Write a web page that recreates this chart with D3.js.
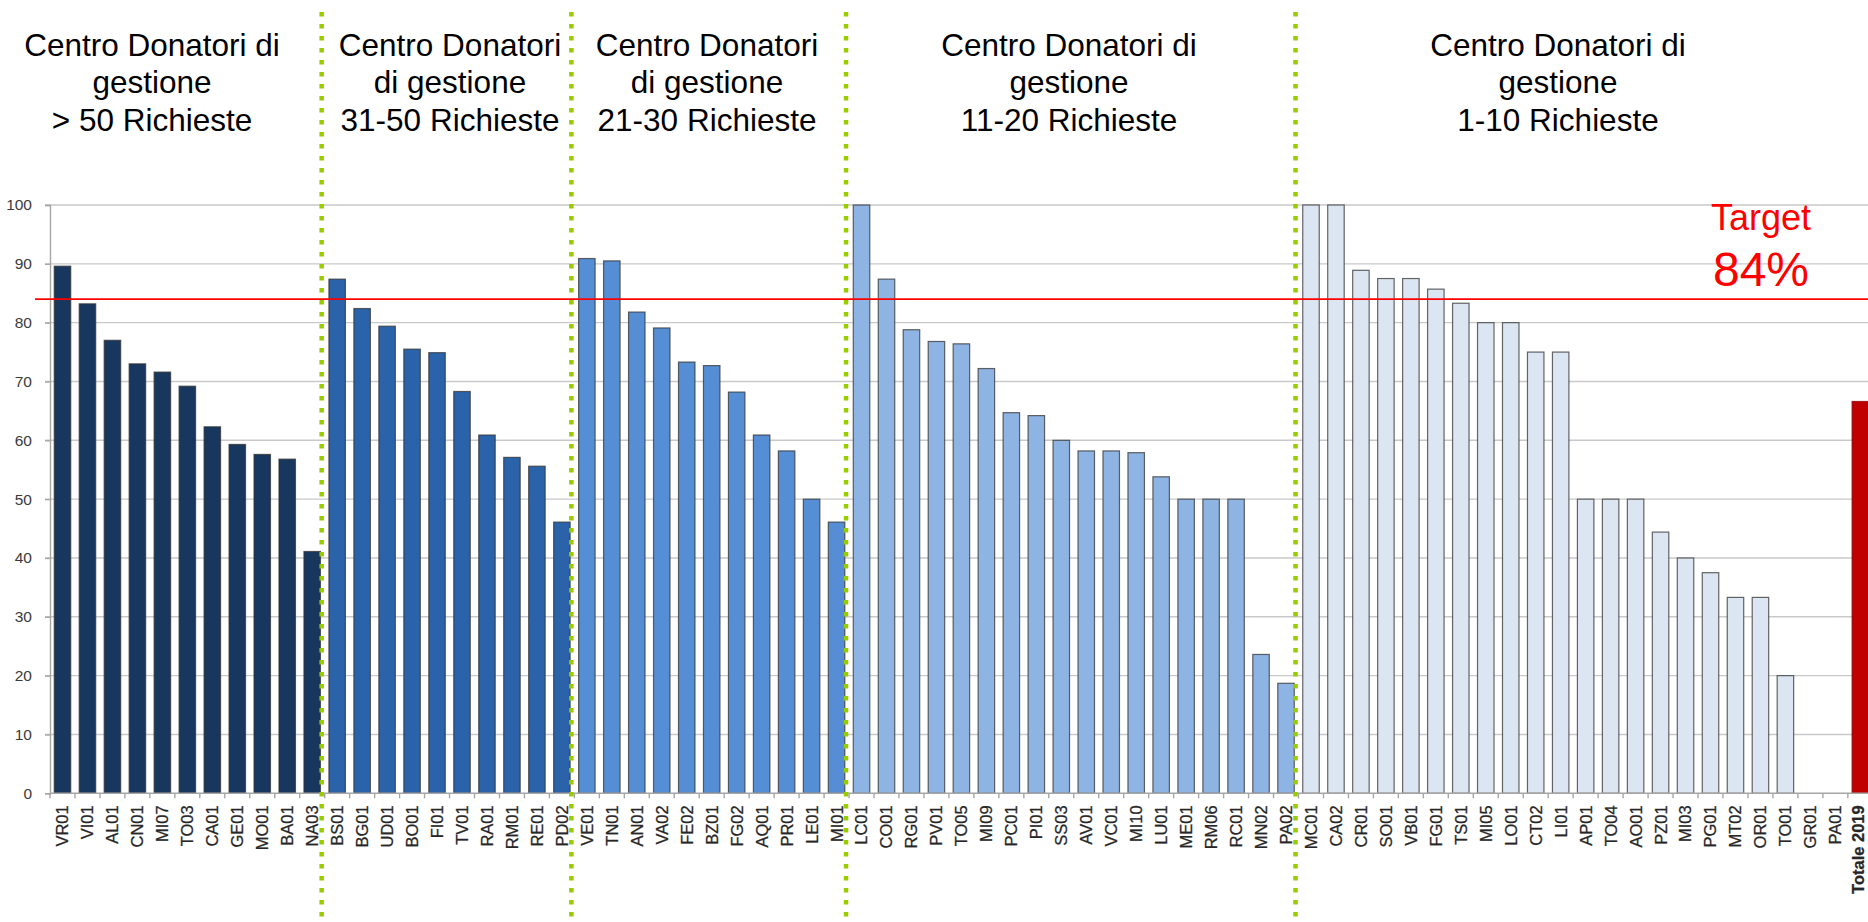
<!DOCTYPE html>
<html>
<head>
<meta charset="utf-8">
<script src="https://cdnjs.cloudflare.com/ajax/libs/d3/7.8.5/d3.min.js"></script>
<style>
  body { margin: 0; background: #fff; }
  svg { display: block; font-family: "Liberation Sans", Arial, sans-serif; }
</style>
</head>
<body>
<svg width="1868" height="922"></svg>
<script>
// groups of donor centres, by number of requests
const catsA = ["VR01", "VI01", "AL01", "CN01", "MI07", "TO03", "CA01", "GE01", "MO01", "BA01", "NA03"];
const valsA = [89.6, 83.2, 77.0, 73.0, 71.6, 69.2, 62.3, 59.3, 57.6, 56.8, 41.1];

const catsB = ["BS01", "BG01", "UD01", "BO01", "FI01", "TV01", "RA01", "RM01", "RE01", "PD02"];
const valsB = [87.4, 82.4, 79.4, 75.5, 74.9, 68.3, 60.9, 57.1, 55.6, 46.1];

const catsC = ["VE01", "TN01", "AN01", "VA02", "FE02", "BZ01", "FG02", "AQ01", "PR01", "LE01", "MI01"];
const valsC = [90.9, 90.5, 81.8, 79.1, 73.3, 72.7, 68.2, 60.9, 58.2, 50.0, 46.1];

const catsD = ["LC01", "CO01", "RG01", "PV01", "TO05", "MI09", "PC01", "PI01", "SS03", "AV01",
               "VC01", "MI10", "LU01", "ME01", "RM06", "RC01", "MN02", "PA02"];
const valsD = [100, 87.4, 78.8, 76.8, 76.4, 72.2, 64.7, 64.2, 60.0, 58.2,
               58.2, 57.9, 53.8, 50.0, 50.0, 50.0, 23.6, 18.7];

const catsE = ["MC01", "CA02", "CR01", "SO01", "VB01", "FG01", "TS01", "MI05", "LO01", "CT02", "LI01",
               "AP01", "TO04", "AO01", "PZ01", "MI03", "PG01", "MT02", "OR01", "TO01", "GR01", "PA01"];
const valsE = [100, 100, 88.9, 87.5, 87.5, 85.7, 83.3, 80.0, 80.0, 75.0, 75.0,
               50.0, 50.0, 50.0, 44.4, 40.0, 37.5, 33.3, 33.3, 20.0, 0, 0];

const totalCat = "Totale 2019";
const totalVal = 66.6;

const target = 84;
const yTicks = [0, 10, 20, 30, 40, 50, 60, 70, 80, 90, 100];

const headers = [
  ["Centro Donatori di", "gestione", "> 50 Richieste"],
  ["Centro Donatori", "di gestione", "31-50 Richieste"],
  ["Centro Donatori", "di gestione", "21-30 Richieste"],
  ["Centro Donatori di", "gestione", "11-20 Richieste"],
  ["Centro Donatori di", "gestione", "1-10 Richieste"]
];

// styling / layout
const groupColors = ["#17375E", "#2B63AA", "#558ED5", "#8EB4E3", "#DCE6F2", "#C00000"];
const headerCx = [152, 450, 707, 1069, 1558];

const w = 1868;
const h = 922;
const left = 50;
const step = 24.97;
const yTop = 205;
const yBottom = 793.3;

const groups = [catsA, catsB, catsC, catsD, catsE, [totalCat]];
const groupVals = [valsA, valsB, valsC, valsD, valsE, [totalVal]];
const data = [];
groups.forEach((cats, g) => cats.forEach((c, i) => data.push({ cat: c, val: groupVals[g][i], group: g })));

const svg = d3.select('svg');

const x = d3.scaleBand()
  .domain(data.map(d => d.cat))
  .range([left, left + step * data.length])
  .paddingInner(0.34)
  .paddingOuter(0.17);

const y = d3.scaleLinear()
  .domain([0, 100])
  .range([yBottom, yTop]);

const bw = x.bandwidth();
const edge = c => x(c) - x.step() * 0.17;

svg.append('rect').attr('width', w).attr('height', h).attr('fill', '#fff');

// gridlines
svg.append('g')
  .selectAll('line')
  .data(yTicks.filter(t => t > 0))
  .enter()
  .append('line')
  .attr('x1', left - 5)
  .attr('x2', w)
  .attr('y1', d => y(d))
  .attr('y2', d => y(d))
  .attr('stroke', '#C9C9C9')
  .attr('stroke-width', 1.4);

// bars
svg.append('g')
  .selectAll('rect')
  .data(data.filter(d => d.val > 0))
  .enter()
  .append('rect')
  .attr('x', d => x(d.cat))
  .attr('y', d => y(d.val))
  .attr('width', bw)
  .attr('height', d => y(0) - y(d.val))
  .attr('fill', d => groupColors[d.group])
  .attr('stroke', d => d.group === 5 ? '#8B0000' : '#333')
  .attr('stroke-opacity', 0.75)
  .attr('stroke-width', 1.2);

// y axis
const yAxis = d3.axisLeft(y).tickValues(yTicks).tickSize(5).tickPadding(13);
const yg = svg.append('g')
  .attr('transform', 'translate(' + left + ', 0)')
  .call(yAxis);
yg.select('.domain').attr('stroke', '#A6A6A6').attr('stroke-width', 1.4);
yg.selectAll('.tick line').attr('stroke', '#A6A6A6').attr('stroke-width', 1.4);
yg.selectAll('.tick text')
  .style('font-family', '"Liberation Sans", Arial, sans-serif')
  .style('font-size', '15.5px')
  .attr('fill', '#3a3a3a');

// x axis line and ticks between categories
svg.append('line')
  .attr('x1', left)
  .attr('x2', w)
  .attr('y1', y(0))
  .attr('y2', y(0))
  .attr('stroke', '#A6A6A6')
  .attr('stroke-width', 1.4);

svg.append('g')
  .selectAll('line')
  .data(data)
  .enter()
  .append('line')
  .attr('x1', d => edge(d.cat))
  .attr('x2', d => edge(d.cat))
  .attr('y1', y(0))
  .attr('y2', y(0) + 5)
  .attr('stroke', '#A6A6A6')
  .attr('stroke-width', 1.4);

// category labels (the last one is kept inside the page)
svg.append('g')
  .selectAll('text')
  .data(data)
  .enter()
  .append('text')
  .attr('transform', d => 'translate(' + Math.min(x(d.cat) + bw / 2, w - 10) + ',' + (y(0) + 12) + ') rotate(-90)')
  .attr('text-anchor', 'end')
  .attr('dy', '0.36em')
  .style('font-size', '16.5px')
  .style('font-weight', d => d.group === 5 ? 'bold' : 'normal')
  .attr('fill', '#262626')
  .attr('stroke', '#262626')
  .attr('stroke-width', 0.25)
  .text(d => d.cat);

// target line
svg.append('line')
  .attr('x1', 35)
  .attr('x2', w)
  .attr('y1', y(target))
  .attr('y2', y(target))
  .attr('stroke', '#FF0000')
  .attr('stroke-width', 1.6);

// group separators
svg.append('g')
  .selectAll('line')
  .data([catsB[0], catsC[0], catsD[0], catsE[0]])
  .enter()
  .append('line')
  .attr('x1', d => edge(d) - 3)
  .attr('x2', d => edge(d) - 3)
  .attr('y1', 12)
  .attr('y2', h)
  .attr('stroke', '#99CC00')
  .attr('stroke-width', 4.5)
  .attr('stroke-dasharray', '4.5 7.5');

// group headers
headers.forEach((lines, i) => {
  const t = svg.append('text')
    .attr('text-anchor', 'middle')
    .style('font-size', '31.5px')
    .attr('fill', '#000');
  lines.forEach((l, j) => {
    t.append('tspan')
      .attr('x', headerCx[i])
      .attr('y', 55.5 + j * 37.5)
      .text(l);
  });
});

// target label
svg.append('text')
  .attr('x', 1761)
  .attr('y', 230)
  .attr('text-anchor', 'middle')
  .style('font-size', '36px')
  .attr('fill', '#FF0000')
  .text('Target');

svg.append('text')
  .attr('x', 1761)
  .attr('y', 286)
  .attr('text-anchor', 'middle')
  .style('font-size', '48px')
  .attr('fill', '#FF0000')
  .text(target + '%');
</script>
</body>
</html>
